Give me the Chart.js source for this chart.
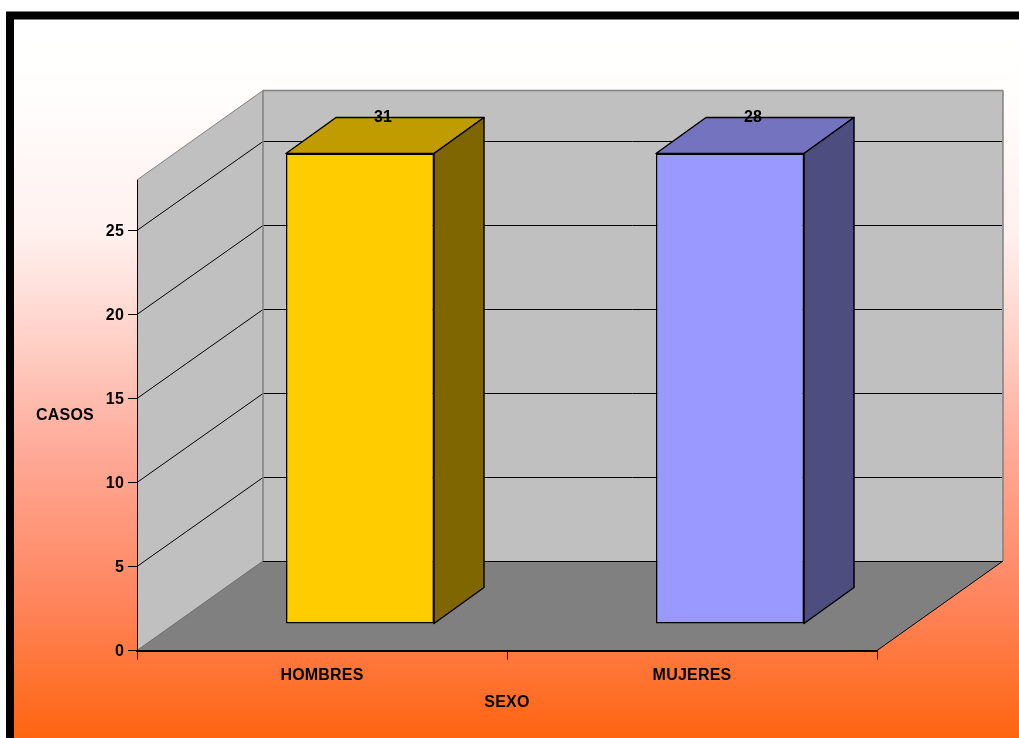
<!DOCTYPE html>
<html>
<head>
<meta charset="utf-8">
<style>
  html, body { margin: 0; padding: 0; background: #fff; }
  canvas { display: block; }
</style>
</head>
<body>
<canvas id="chart" width="1019" height="738"></canvas>
<script src="https://cdn.jsdelivr.net/npm/chart.js@4/dist/chart.umd.js"></script>
<script>
const categories = ['HOMBRES', 'MUJERES'];
const casos = [31, 28];
const yMax = 28;
const yStep = 5;
const frontColors = ['#FFCC00', '#9999FF'];
const topColors = ['#C09C00', '#7373BF'];
const sideColors = ['#806600', '#4D4D80'];

const font = { family: '"Liberation Sans", Arial, sans-serif', size: 16, weight: 'bold' };
const fontText = 'bold 16px "Liberation Sans", Arial, sans-serif';

// depth of the box and of the bars, in pixels
const wallDx = 126, wallDy = -89.5;
const barDx = 38, barDy = -26.5;
const sideDx = 50, sideDy = -36;

function line(ctx, x1, y1, x2, y2, color, width) {
  ctx.strokeStyle = color;
  ctx.lineWidth = width;
  ctx.beginPath();
  ctx.moveTo(x1, y1);
  ctx.lineTo(x2, y2);
  ctx.stroke();
}

function poly(ctx, pts, fill, stroke, width) {
  ctx.beginPath();
  pts.forEach((p, i) => (i ? ctx.lineTo(p[0], p[1]) : ctx.moveTo(p[0], p[1])));
  ctx.closePath();
  ctx.fillStyle = fill;
  ctx.fill();
  if (stroke) {
    ctx.strokeStyle = stroke;
    ctx.lineWidth = width;
    ctx.lineJoin = 'round';
    ctx.stroke();
  }
}

const box3d = {
  id: 'box3d',
  beforeDraw(chart) {
    const { ctx, chartArea: a, scales } = chart;
    const w = chart.width, h = chart.height;
    ctx.letterSpacing = '0.2px';
    ctx.save();

    // page background and frame
    ctx.fillStyle = '#fff';
    ctx.fillRect(0, 0, w, h);
    const g = ctx.createLinearGradient(0, 19, 0, h);
    g.addColorStop(0, '#ffffff');
    g.addColorStop(0.1, '#fffefd');
    g.addColorStop(0.3, '#fff0ee');
    g.addColorStop(0.45, '#ffd0c6');
    g.addColorStop(0.6, '#ffaa98');
    g.addColorStop(0.8, '#ff8660');
    g.addColorStop(1, '#ff6510');
    ctx.fillStyle = g;
    ctx.fillRect(10, 15, w - 10, h - 15);
    ctx.strokeStyle = '#000';
    ctx.lineWidth = 8;
    ctx.beginPath();
    ctx.moveTo(10, h);
    ctx.lineTo(10, 15.5);
    ctx.lineTo(w, 15.5);
    ctx.stroke();

    const l = a.left, r = a.right, t = a.top, b = a.bottom;

    // side wall, back wall, floor
    poly(ctx, [[l, b], [l, t], [l + wallDx, t + wallDy], [l + wallDx, b + wallDy]], '#C0C0C0');
    poly(ctx, [[l + wallDx, b + wallDy], [l + wallDx, t + wallDy], [r + wallDx, t + wallDy], [r + wallDx, b + wallDy]], '#C0C0C0');
    poly(ctx, [[l, b], [l + wallDx, b + wallDy], [r + wallDx, b + wallDy], [r, b]], '#808080');

    // gridlines on both walls
    scales.y.ticks.forEach((tick) => {
      if (tick.value === 0) return;
      const y = scales.y.getPixelForValue(tick.value);
      const yBack = Math.round(y + wallDy) + 0.5;
      line(ctx, l, y, l + wallDx, yBack, '#000', 1);
      line(ctx, l + wallDx, yBack, r + wallDx - 1, yBack, '#000', 1);
    });

    // box edges
    line(ctx, l, t, l + wallDx, t + wallDy, '#808080', 1);
    line(ctx, l + wallDx, t + wallDy, r + wallDx, t + wallDy, '#808080', 1.5);
    line(ctx, l + wallDx, t + wallDy, l + wallDx, b + wallDy, '#808080', 1.5);
    line(ctx, r + wallDx, t + wallDy, r + wallDx, b + wallDy, '#808080', 1.5);
    line(ctx, l, b, l + wallDx, b + wallDy, '#707070', 1);
    line(ctx, l + wallDx, b + wallDy + 0.5, r + wallDx, b + wallDy + 0.5, '#000', 1);
    line(ctx, r, b, r + wallDx, b + wallDy, '#000', 1);

    ctx.restore();

    // axis name that reads horizontally
    ctx.save();
    ctx.font = fontText;
    ctx.fillStyle = '#000';
    ctx.textAlign = 'left';
    ctx.textBaseline = 'middle';
    ctx.fillText('CASOS', 36, 416);
    ctx.restore();
  },
  beforeDatasetDraw(chart, args) {
    const { ctx } = chart;
    const bars = chart.getDatasetMeta(args.index).data;
    ctx.save();
    ctx.translate(barDx, barDy);
    bars.forEach((bar, i) => {
      const p = bar.getProps(['x', 'y', 'base', 'width'], true);
      const x1 = p.x - p.width / 2, x2 = p.x + p.width / 2;
      poly(ctx, [[x1, p.y], [x1 + sideDx, p.y + sideDy], [x2 + sideDx, p.y + sideDy], [x2, p.y]], topColors[i], '#000', 1.5);
      poly(ctx, [[x2, p.y], [x2 + sideDx, p.y + sideDy], [x2 + sideDx, p.base + sideDy], [x2, p.base]], sideColors[i], '#000', 1.5);
    });
  },
  afterDatasetDraw(chart) {
    chart.ctx.restore();
  },
  afterDatasetsDraw(chart) {
    const { ctx } = chart;
    ctx.save();
    ctx.font = fontText;
    ctx.fillStyle = '#000';
    ctx.textAlign = 'center';
    ctx.textBaseline = 'middle';
    chart.getDatasetMeta(0).data.forEach((bar, i) => {
      ctx.fillText(String(casos[i]), bar.x + 61, bar.y - 62);
    });
    ctx.restore();
  },
};

const ctx = document.getElementById('chart').getContext('2d');

new Chart(ctx, {
  type: 'bar',
  data: {
    labels: categories,
    datasets: [
      {
        label: 'CASOS',
        // the axis stops at yMax, taller bars are cut there
        data: casos.map((v) => Math.min(v, yMax)),
        backgroundColor: frontColors,
        borderColor: '#000',
        borderWidth: 1.5,
        borderSkipped: false,
        categoryPercentage: 1,
        barPercentage: 0.4,
        clip: false,
      },
    ],
  },
  options: {
    responsive: false,
    animation: false,
    layout: { padding: { top: 180, right: 142, left: 0, bottom: 0 } },
    plugins: { legend: { display: false }, tooltip: { enabled: false } },
    scales: {
      x: {
        offset: true,
        afterFit: (scale) => { scale.height = 87.5; },
        border: { color: '#000', width: 2 },
        grid: { color: '#000', drawOnChartArea: false, drawTicks: true, tickLength: 9, offset: true },
        ticks: { color: '#000', font: font, padding: 6, maxRotation: 0 },
        title: { display: true, text: 'SEXO', color: '#000', font: font, padding: { top: 0, bottom: 26 } },
      },
      y: {
        min: 0,
        max: yMax,
        afterFit: (scale) => { scale.width = 137; },
        afterBuildTicks: (scale) => { scale.ticks = scale.ticks.filter((t) => t.value % yStep === 0); },
        border: { color: '#000', width: 1 },
        grid: { color: '#000', drawOnChartArea: false, drawTicks: true, tickLength: 9 },
        ticks: { color: '#000', font: font, padding: 4, stepSize: yStep, labelOffset: 1 },
      },
    },
  },
  plugins: [box3d],
});
</script>
</body>
</html>
